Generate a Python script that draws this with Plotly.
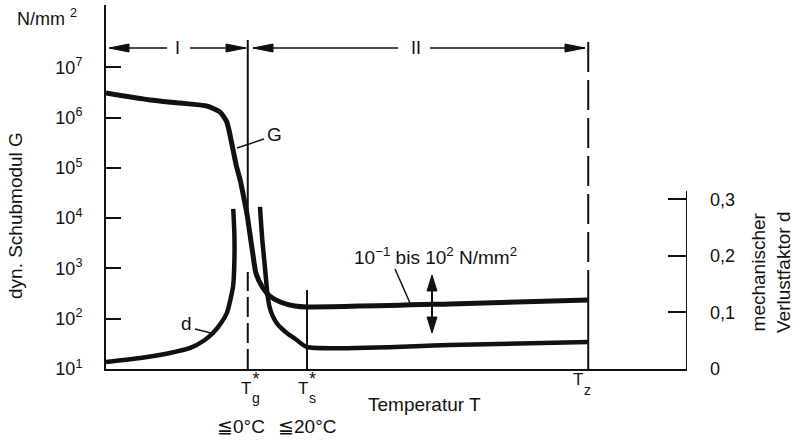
import plotly.graph_objects as go

# ---------------- data ----------------
# temperature in arbitrary units along the axis (0 .. 100)
temp_G = [0, 7.6, 12.7, 17.4, 19.6, 20.8, 21.7, 22.4, 23.1, 23.8, 24.3, 24.8,
          25.3, 25.8, 26.9, 28.2, 30.0, 32.5, 34.6, 59.2, 83.0]
G_modulus = [3.07e6, 2.23e6, 1.94e6, 1.69e6, 1.29e6, 8.1e5, 2.84e5, 1.14e5,
             5.7e4, 2.3e4, 1.15e4, 4.6e3, 1.85e3, 810, 427, 282, 215, 179,
             171, 196, 235]

temp_d_low = [0, 5.9, 11.0, 14.5, 17.0, 18.4, 19.8, 20.8, 21.4, 21.9, 22.1, 22.1, 21.9]
d_low = [0.0124, 0.0195, 0.0283, 0.0372, 0.0513, 0.0637, 0.0814, 0.0991,
         0.1221, 0.1487, 0.1929, 0.2372, 0.2832]

temp_d_high = [26.5, 26.9, 27.4, 27.8, 28.2, 28.7, 29.4, 30.3, 31.4, 32.6, 34.6, 59.2, 83.0]
d_high = [0.2867, 0.2283, 0.1752, 0.1310, 0.1080, 0.0935, 0.0810, 0.0708,
          0.0614, 0.0531, 0.0389, 0.0425, 0.0478]

T_g, T_s, T_z = 24.4, 34.6, 83.0

G_tickvals = [1e1, 1e2, 1e3, 1e4, 1e5, 1e6, 1e7]
G_ticktext = ["10<sup>1</sup>", "10<sup>2</sup>", "10<sup>3</sup>", "10<sup>4</sup>",
              "10<sup>5</sup>", "10<sup>6</sup>", "10<sup>7</sup>"]
d_tickvals = [0, 0.1, 0.2, 0.3]
d_ticktext = ["0", "0,1", "0,2", "0,3"]

# ---------------- layout geometry ----------------
W, H = 793, 440
ML, MR, MT, MB = 106, 106, 5, 71
X_RANGE = [0, 100]
Y_RANGE_LOG = [1, 8.237]
Y2_RANGE = [0, 0.644]
PLOT_W = W - ML - MR
PLOT_H = H - MT - MB

FONT = "Liberation Sans, Arial, Helvetica, sans-serif"
BLACK = "#111111"


def U(px):
    return X_RANGE[0] + (px - ML) / PLOT_W * (X_RANGE[1] - X_RANGE[0])


def V(py):
    return Y2_RANGE[0] + (H - MB - py) / PLOT_H * (Y2_RANGE[1] - Y2_RANGE[0])


def P(px):
    return (px - ML) / PLOT_W


def Q(py):
    return (H - MB - py) / PLOT_H


def Tpx(u):
    return ML + (u - X_RANGE[0]) / (X_RANGE[1] - X_RANGE[0]) * PLOT_W


fig = go.Figure()

fig.add_trace(go.Scatter(x=temp_G, y=G_modulus, mode="lines", yaxis="y",
                         line=dict(color=BLACK, width=5, shape="spline", smoothing=0.6),
                         hoverinfo="skip", showlegend=False))
fig.add_trace(go.Scatter(x=temp_d_low, y=d_low, mode="lines", yaxis="y2",
                         line=dict(color=BLACK, width=4.5, shape="spline", smoothing=0.6),
                         hoverinfo="skip", showlegend=False))
fig.add_trace(go.Scatter(x=temp_d_high, y=d_high, mode="lines", yaxis="y2",
                         line=dict(color=BLACK, width=4.5, shape="spline", smoothing=0.6),
                         hoverinfo="skip", showlegend=False))

shapes = []


def seg(x0, y0, x1, y1, width=2, dash="solid"):
    shapes.append(dict(type="line", xref="x", yref="y2", x0=x0, y0=y0, x1=x1, y1=y1,
                       line=dict(color=BLACK, width=width, dash=dash), layer="above"))


def head(tx, ty, direction, L=20, hw=4):
    # tip given in pixels; builds a filled arrowhead
    if direction == "left":
        pts = [(tx, ty), (tx + L, ty - hw), (tx + L, ty + hw)]
    elif direction == "right":
        pts = [(tx, ty), (tx - L, ty - hw), (tx - L, ty + hw)]
    elif direction == "up":
        pts = [(tx, ty), (tx - hw, ty + L), (tx + hw, ty + L)]
    else:
        pts = [(tx, ty), (tx - hw, ty - L), (tx + hw, ty - L)]
    p = "M {:.4f},{:.5f} L {:.4f},{:.5f} L {:.4f},{:.5f} Z".format(
        U(pts[0][0]), V(pts[0][1]), U(pts[1][0]), V(pts[1][1]), U(pts[2][0]), V(pts[2][1]))
    shapes.append(dict(type="path", xref="x", yref="y2", path=p,
                       fillcolor=BLACK, line=dict(color=BLACK, width=1), layer="above"))


# vertical marker lines
seg(T_g, V(225), T_g, V(40), width=2)
seg(T_g, 0, T_g, V(272), width=2, dash="20px,6px")
seg(T_s, 0, T_s, V(290), width=2)
seg(T_z, V(300), T_z, V(35), width=2, dash="30px,8px")
seg(T_z, 0, T_z, V(300), width=2)
# right axis line
seg(X_RANGE[1], 0, X_RANGE[1], V(191), width=2)

# region arrows at the top
ya = V(48)
seg(U(110), ya, U(167), ya, width=1.5)
seg(U(190), ya, U(246), ya, width=1.5)
seg(U(253), ya, U(398), ya, width=1.5)
seg(U(430), ya, U(585), ya, width=1.5)
head(109, 48, "left")
head(246, 48, "right")
head(253, 48, "left")
head(585, 48, "right")

# leader lines
seg(U(237), V(148), U(264), V(139), width=1.5)   # G
seg(U(195), V(329), U(215), V(334), width=1.5)   # d
seg(U(395), V(269), U(410), V(303), width=1.5)   # range label

# double arrow
seg(U(432), V(288), U(432), V(320), width=2)
head(432, 275, "up", L=16, hw=5)
head(432, 333, "down", L=16, hw=5)

annotations = []


def txt(px, py, s, size=19, angle=0, xanchor="center"):
    annotations.append(dict(x=P(px), y=Q(py), xref="paper", yref="paper", text=s,
                            showarrow=False, textangle=angle, xanchor=xanchor,
                            yanchor="middle", borderpad=0,
                            font=dict(family=FONT, size=size, color=BLACK)))


txt(177, 48, "I", size=18)
txt(416, 48, "II", size=18)
txt(274, 135, "G", size=19)
txt(186, 323, "d", size=19)
txt(435, 256, "10<sup>−1</sup> bis 10<sup>2</sup> N/mm<sup>2</sup>", size=19)
txt(47, 18, "N/mm <sup>2</sup>", size=18)
txt(16, 216, "dyn. Schubmodul G", size=19, angle=-90)
txt(771, 273, "mechanischer<br>Verlustfaktor d", size=19, angle=-90)

# x labels (T with stacked star / subscript)
xg, xs, xz = Tpx(T_g), Tpx(T_s), Tpx(T_z)
STAR = "<span style='font-size:18px'>*</span>"
txt(xg + 4, 388, "T", size=17, xanchor="right")
txt(xg + 3, 387, STAR + "<br>g", size=14, xanchor="left")
txt(xs + 2, 388, "T", size=17, xanchor="right")
txt(xs + 1, 387, STAR + "<br>s", size=14, xanchor="left")
txt(xz - 4, 380, "T", size=17, xanchor="right")
txt(xz - 5, 390, "z", size=14, xanchor="left")
txt(424, 404, "Temperatur T", size=19)
txt(241, 427, "≦0°C", size=19)
txt(307, 427, "≦20°C", size=19)

fig.update_layout(
    width=W, height=H, autosize=False,
    margin=dict(l=ML, r=MR, t=MT, b=MB, pad=0),
    paper_bgcolor="white", plot_bgcolor="white",
    font=dict(family=FONT, size=18, color=BLACK),
    showlegend=False,
    xaxis=dict(range=X_RANGE, showline=True, linecolor=BLACK, linewidth=2,
               showgrid=False, zeroline=False, ticks="", showticklabels=False,
               fixedrange=True, automargin=False),
    yaxis=dict(type="log", range=Y_RANGE_LOG, showline=True, linecolor=BLACK, linewidth=2,
               showgrid=False, zeroline=False, ticks="inside", ticklen=15, tickwidth=2,
               tickcolor=BLACK, tickvals=G_tickvals, ticktext=G_ticktext,
               tickfont=dict(family=FONT, size=18, color=BLACK),
               ticklabelstandoff=18, fixedrange=True, automargin=False),
    yaxis2=dict(range=Y2_RANGE, overlaying="y", side="right", showline=False,
                showgrid=False, zeroline=False, ticks="inside", ticklen=19, tickwidth=2,
                tickcolor=BLACK, tickvals=d_tickvals, ticktext=d_ticktext,
                tickfont=dict(family=FONT, size=18, color=BLACK),
                ticklabelstandoff=22, fixedrange=True, automargin=False),
    shapes=shapes,
    annotations=annotations,
)

fig.write_html("out.html", config={"displayModeBar": False},
               post_script="document.body.style.margin='0';document.body.style.padding='0';")
